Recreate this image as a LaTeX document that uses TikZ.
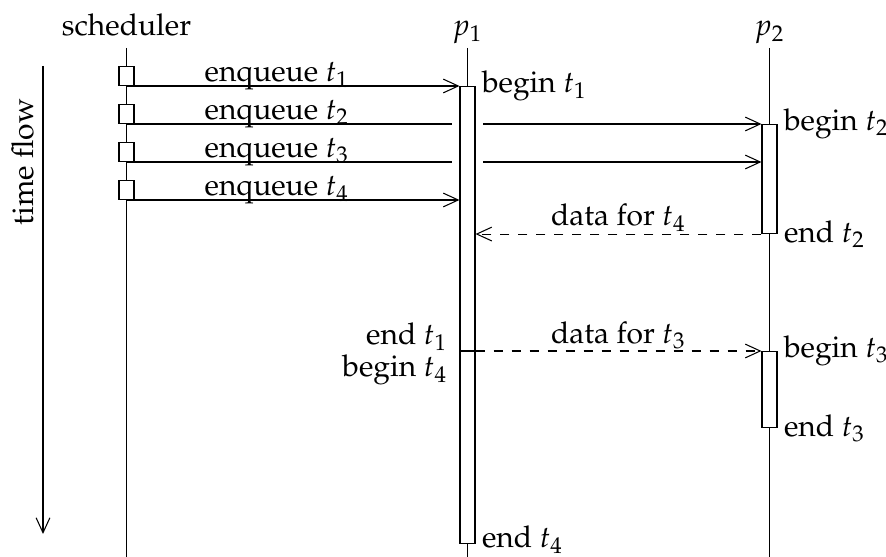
\documentclass[tikz,border=0pt]{standalone}
\usepackage[T1]{fontenc}
\usepackage{mathpazo}
\usetikzlibrary{arrows.meta}
\begin{document}
\begin{tikzpicture}[x=0.3333pt,y=-0.3333pt,
  line width=0.35pt,
  msg/.style={-{Straight Barb[length=5pt,width=4.6pt]}},
  reply/.style={msg,dashed},
  actbox/.style={draw,fill=white,inner sep=0pt,minimum width=5pt},
  qbox/.style={draw,fill=white,inner sep=0pt,minimum width=5pt,minimum height=6.33pt,anchor=south},
  txt/.style={inner sep=0pt,anchor=base},
  evlbl/.style={inner sep=2pt}]
\useasboundingbox (0,0) rectangle (886,557);

% headers
\node[txt] (hs) at (126.5,36) {scheduler};
\node[txt] (h1) at (467.5,36) {$p_1$};
\node[txt] (h2) at (769.5,36) {$p_2$};

% lifelines
\coordinate (ls0) at (126.5,48);   \coordinate (ls1) at (126.5,557);
\coordinate (l10) at (467.5,48); \coordinate (l11) at (467.5,557);
\coordinate (l20) at (769.5,48); \coordinate (l21) at (769.5,557);
\draw (ls0) -- (ls1);
\draw (l10) -- (l11);
\draw (l20) -- (l21);

% time flow
\coordinate (tf0) at (43,66); \coordinate (tf1) at (43,534);
\draw[msg] (tf0) -- (tf1);
\node[txt,rotate=90] (tft) at (33,162) {time flow};

% activation boxes
\node[actbox,minimum height=152.33pt,anchor=north] (a1) at (467.5,86) {};
\node[actbox,minimum height=36.33pt,anchor=north] (b1) at (769.5,124) {};
\node[actbox,minimum height=25.33pt,anchor=north] (b2) at (769.5,351) {};

% scheduler boxes
\node[qbox] (q1) at (126.5,86) {};
\node[qbox] (q2) at (126.5,124) {};
\node[qbox] (q3) at (126.5,162) {};
\node[qbox] (q4) at (126.5,200) {};

% message coordinates
\coordinate (s1) at (126.5,86);
\coordinate (s2) at (126.5,124);
\coordinate (s3) at (126.5,162);
\coordinate (s4) at (126.5,200);
\coordinate (g2a) at (452,124); \coordinate (g2b) at (483,124);
\coordinate (g3a) at (452,162); \coordinate (g3b) at (483,162);

\draw[msg] (s1) -- (a1.north west);
\draw (s2) -- (g2a);
\draw[msg] (g2b) -- (b1.north west);
\draw (s3) -- (g3a);
\draw[msg] (g3b) -- (b1.west |- g3b);
\draw[msg] (s4) -- (a1.west |- s4);

\node[txt] (e1) at (277,81.5) {enqueue $t_1$};
\node[txt] (e2) at (277,119.5) {enqueue $t_2$};
\node[txt] (e3) at (277,157.5) {enqueue $t_3$};
\node[txt] (e4) at (277,195.5) {enqueue $t_4$};

% data messages
\draw[reply] (b1.south west) -- (a1.east |- b1.south west);
\node[txt] (d4) at (618.5,225.5) {data for $t_4$};
\draw (a1.west |- b2.north) -- (a1.east |- b2.north);
\draw[reply] (a1.east |- b2.north) -- (b2.north west);
\node[txt] (d3) at (618.5,343.5) {data for $t_3$};

% event labels
\node[evlbl,anchor=west] (lb1) at (a1.north east) {begin $t_1$};
\node[evlbl,anchor=west] (lb2) at (b1.north east) {begin $t_2$};
\node[evlbl,anchor=west] (le2) at (b1.south east) {end $t_2$};
\node[evlbl,anchor=west] (lb3) at (b2.north east) {begin $t_3$};
\node[evlbl,anchor=west] (le3) at (b2.south east) {end $t_3$};
\node[evlbl,anchor=west,yshift=1.4pt] (le4) at (a1.south east) {end $t_4$};
\node[txt,anchor=base east] (le1) at (448,345) {end $t_1$};
\node[txt,anchor=base east] (lb4) at (448,377) {begin $t_4$};
\end{tikzpicture}
\end{document}
